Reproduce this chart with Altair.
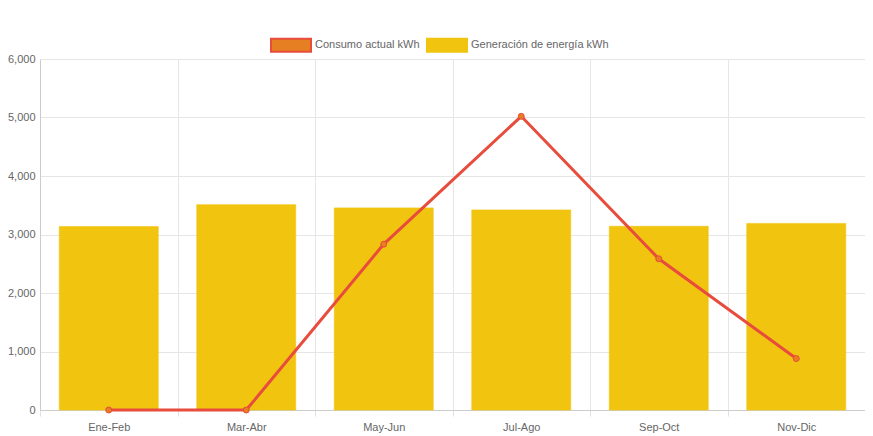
import altair as alt
import pandas as pd

periodos = ["Ene-Feb", "Mar-Abr", "May-Jun", "Jul-Ago", "Sep-Oct", "Nov-Dic"]
consumo = [0, 0, 2835, 5020, 2585, 880]
generacion = [3135, 3510, 3455, 3420, 3140, 3190]
series = ["Consumo actual kWh", "Generación de energía kWh"]
fill_colors = ["#e67e22", "#f1c40f"]
stroke_colors = ["#e74c3c", "#f1c40f"]

rows = []
for p, c, g in zip(periodos, consumo, generacion):
    rows.append({"periodo": p, "serie": series[0], "valor": c})
    rows.append({"periodo": p, "serie": series[1], "valor": g})
df = pd.DataFrame(rows)

FONT = "Liberation Sans"
FS = 11

legend = alt.Legend(
    title=None,
    orient="none",
    legendX=230,
    legendY=-35,
    direction="horizontal",
    symbolType="M-1,-0.325L1,-0.325L1,0.325L-1,0.325Z",
    symbolSize=1600,
    symbolStrokeWidth=2,
    symbolOpacity=1,
    labelFont=FONT,
    labelFontSize=FS,
    labelColor="#666666",
    labelOffset=3,
    columnPadding=3,
)

fill_enc = alt.Fill("serie:N", scale=alt.Scale(domain=series, range=fill_colors), legend=legend)
stroke_enc = alt.Stroke("serie:N", scale=alt.Scale(domain=series, range=stroke_colors), legend=legend)

x_enc = alt.X(
    "periodo:N",
    sort=periodos,
    scale=alt.Scale(paddingInner=0, paddingOuter=0),
    axis=alt.Axis(
        title=None,
        labelAngle=0,
        labelFont=FONT,
        labelFontSize=FS,
        labelColor="#666666",
        labelPadding=5,
        tickBand="extent",
        tickSize=6,
        tickColor="#e0e0e0",
        grid=True,
        gridColor="#e6e6e6",
        domainColor="#cccccc",
    ),
)
y_enc = alt.Y(
    "valor:Q",
    scale=alt.Scale(domain=[0, 6000], nice=False),
    axis=alt.Axis(
        title=None,
        values=[0, 1000, 2000, 3000, 4000, 5000, 6000],
        format=",d",
        labelFont=FONT,
        labelFontSize=FS,
        labelColor="#666666",
        labelPadding=5,
        tickSize=0,
        ticks=False,
        grid=True,
        gridColor="#e6e6e6",
        domainColor="#cccccc",
    ),
)

base = alt.Chart(df).encode(x=x_enc, y=y_enc)

bars = base.transform_filter(alt.datum.serie == series[1]).mark_bar(
    width=alt.RelativeBandSize(0.72), strokeWidth=1, strokeOpacity=0.6
).encode(fill=fill_enc, stroke=stroke_enc)

line = base.transform_filter(alt.datum.serie == series[0]).mark_line(
    strokeWidth=3
).encode(stroke=stroke_enc)

points = base.transform_filter(alt.datum.serie == series[0]).mark_point(
    filled=True, size=36, strokeWidth=1, opacity=1, fillOpacity=1
).encode(fill=fill_enc, stroke=stroke_enc)

chart = alt.layer(bars, line, points).properties(
    width=825,
    height=351,
    autosize=alt.AutoSizeParams(type="none"),
    padding={"left": 32, "top": 51, "right": 0, "bottom": 26},
).configure_view(stroke=None)

chart.save("out.html", embed_options={"renderer": "svg", "actions": False})
